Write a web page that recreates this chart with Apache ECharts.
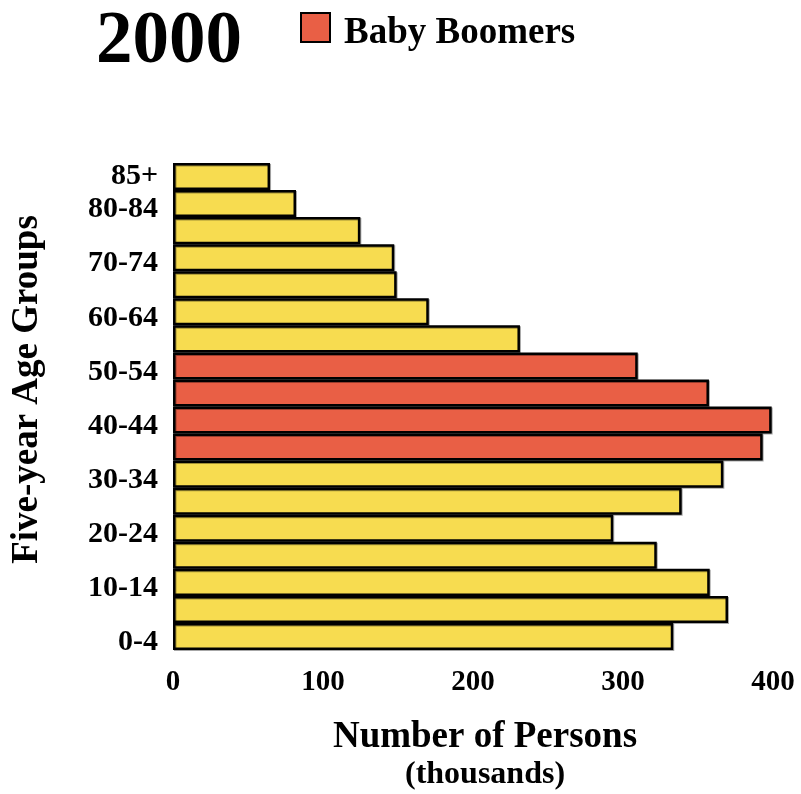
<!DOCTYPE html>
<html>
<head>
<meta charset="UTF-8">
<title>2000 Baby Boomers</title>
<script src="https://cdn.jsdelivr.net/npm/echarts@6/dist/echarts.min.js"></script>
<style>
  html, body { margin: 0; padding: 0; background: #fff; }
  #chart { width: 801px; height: 794px; }
</style>
</head>
<body>
<div id="chart"></div>
<script type="text/javascript">
// age groups, bottom to top
var ageGroups = ['0-4', '5-9', '10-14', '15-19', '20-24', '25-29', '30-34', '35-39', '40-44',
                 '45-49', '50-54', '55-59', '60-64', '65-69', '70-74', '75-79', '80-84', '85+'];
// persons in thousands
var persons = [333.5, 370, 357.8, 322.5, 293.5, 339.1, 366.9, 393.1, 399.1,
               357.3, 309.8, 231.3, 170.5, 149.1, 147.5, 124.9, 82, 64.7];
var boomerGroups = ['35-39', '40-44', '45-49', '50-54'];
var xTicks = [0, 100, 200, 300, 400];
var shownLabels = ['0-4', '10-14', '20-24', '30-34', '40-44', '50-54', '60-64', '70-74', '80-84', '85+'];

var serif = '"Liberation Serif", "Times New Roman", serif';
var yellow = '#f7dc50';
var orange = '#e95f45';

var otherData = [];
var boomerData = [];
for (var i = 0; i < ageGroups.length; i++) {
    var isBoomer = boomerGroups.indexOf(ageGroups[i]) >= 0;
    otherData.push(isBoomer ? '-' : persons[i]);
    boomerData.push(isBoomer ? persons[i] : '-');
}

var barStyle = {
    borderColor: '#000',
    borderWidth: 2.5,
    shadowColor: 'rgba(0,0,0,0.35)',
    shadowOffsetX: 1,
    shadowOffsetY: 1
};

var chart = echarts.init(document.getElementById('chart'));
var option = {
    animation: false,
    title: {
        text: '2000',
        left: 96,
        top: 7,
        padding: 0,
        textStyle: { fontFamily: serif, fontWeight: 'bold', fontSize: 73, color: '#000' }
    },
    legend: {
        data: ['Baby Boomers'],
        left: 300,
        top: 12,
        padding: 0,
        itemWidth: 29,
        itemHeight: 29,
        icon: 'rect',
        formatter: '{t|{name}}',
        textStyle: {
            rich: {
                t: { fontFamily: serif, fontWeight: 'bold', fontSize: 37, color: '#000', padding: [12, 0, 0, 9] }
            }
        }
    },
    grid: { left: 173, right: 28, top: 163, bottom: 144, containLabel: false, outerBoundsMode: 'none' },
    xAxis: {
        type: 'value',
        min: 0,
        max: 400,
        interval: 100,
        splitLine: { show: false },
        axisLine: { show: false },
        axisTick: { show: false },
        axisLabel: {
            margin: 18,
            fontFamily: serif, fontWeight: 'bold', fontSize: 29, color: '#000',
            formatter: function (v) { return xTicks.indexOf(v) >= 0 ? String(v) : ''; }
        },
        name: '{a|Number of Persons}\n{b|(thousands)}',
        nameLocation: 'middle',
        nameGap: 67,
        nameTextStyle: {
            padding: [0, 0, 0, 24],
            rich: {
                a: { fontFamily: serif, fontWeight: 'bold', fontSize: 37, color: '#000', lineHeight: 40 },
                b: { fontFamily: serif, fontWeight: 'bold', fontSize: 32, color: '#000', lineHeight: 36 }
            }
        }
    },
    yAxis: {
        type: 'category',
        data: ageGroups,
        axisLine: { show: false },
        axisTick: { show: false },
        axisLabel: {
            interval: function (idx, val) { return shownLabels.indexOf(val) >= 0; },
            showMaxLabel: true,
            showMinLabel: true,
            hideOverlap: false,
            margin: 15,
            formatter: function (v) {
                if (v === '85+') return '{top|' + v + '}';
                return '{dn|' + v + '}';
            },
            rich: {
                dn: { fontFamily: serif, fontWeight: 'bold', fontSize: 30, color: '#000', padding: [12, 0, 0, 0] },
                top: { fontFamily: serif, fontWeight: 'bold', fontSize: 30, color: '#000', padding: [0, 0, 0, 0] }
            }
        },
        name: 'Five-year Age Groups',
        nameLocation: 'middle',
        nameGap: 127,
        nameTextStyle: { fontFamily: serif, fontWeight: 'bold', fontSize: 37, color: '#000', padding: [0, 0, 0, 34] }
    },
    series: [
        {
            name: 'Others',
            type: 'bar',
            data: otherData,
            barCategoryGap: '0%',
            barGap: '-100%',
            itemStyle: Object.assign({ color: yellow }, barStyle)
        },
        {
            name: 'Baby Boomers',
            type: 'bar',
            data: boomerData,
            barCategoryGap: '0%',
            barGap: '-100%',
            itemStyle: Object.assign({ color: orange }, barStyle)
        }
    ]
};
chart.setOption(option);
</script>
</body>
</html>
